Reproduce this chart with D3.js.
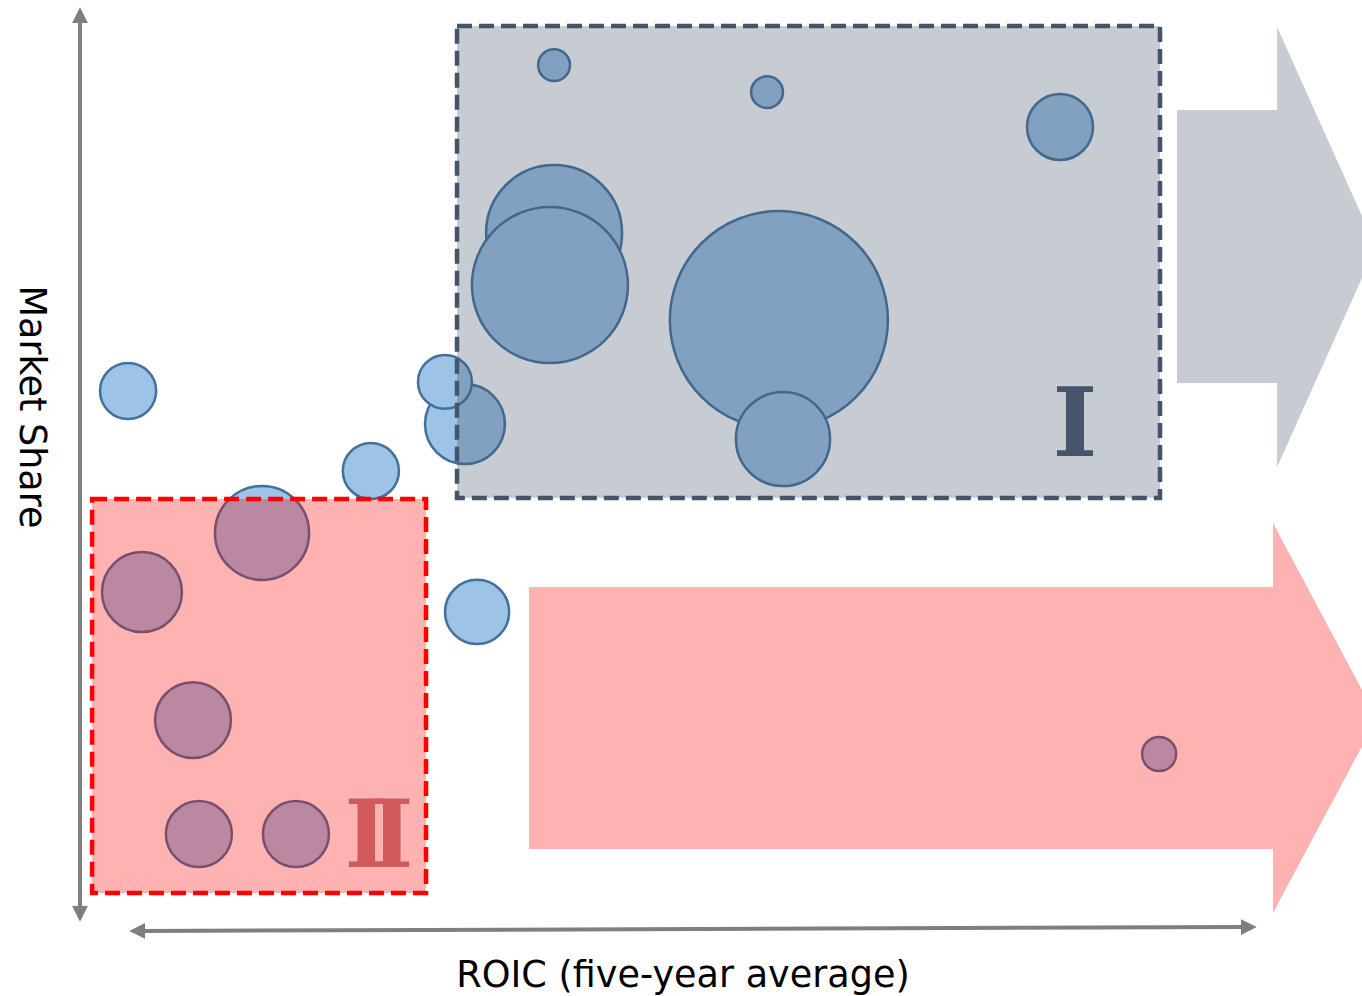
<!DOCTYPE html>
<html>
<head>
<meta charset="utf-8">
<script src="https://cdn.jsdelivr.net/npm/d3@7"></script>
<style>
  html, body { margin: 0; padding: 0; background: #fff; overflow: hidden; }
  svg { display: block; }
</style>
</head>
<body>
<svg id="chart" width="1362" height="996"></svg>
<script>
// ---- Data ----
const roic  = [16.07, 23.29, 33.22, 16.07, 15.93, 23.69, 23.83, 13.05, 12.37, 1.63, 9.86, 6.17, 2.10, 3.83, 4.03, 7.32, 13.46, 36.58];
const share = [46.98, 45.50, 43.59, 37.77, 34.92, 33.00, 26.48, 27.30, 29.61, 29.11, 24.73, 21.33, 18.09, 11.07, 4.82, 4.82, 17.00, 9.21];
const size  = [2.1, 2.1, 9.0, 38.2, 50.3, 98.2, 18.3, 13.2, 6.0, 6.5, 6.5, 18.3, 13.2, 11.9, 9.0, 9.0, 8.5, 2.4];

const zoneNames = ["I", "II"];
const zoneRoic  = [[12.78, 36.61], [0.41, 11.73]];
const zoneShare = [[23.25, 49.12], [1.59, 23.19]];

// arrows: [body start, head base, tip] and [body low, body high, head low, head high, tip]
const arrowRoic  = [[37.19, 40.58, 43.93], [15.22, 40.44, 43.97]];
const arrowShare = [[29.55, 44.52, 24.95, 49.07, 37.01], [4.00, 18.37, 0.49, 21.88, 11.18]];

const xLabel = "ROIC (five-year average)";
const yLabel = "Market Share";

// ---- Scales ----
const x = d3.scaleLinear().domain([0, 40]).range([80, 1260]);
const y = d3.scaleLinear().domain([0, 50]).range([922, 10]);
const r = d3.scaleSqrt().domain([0, 100]).range([0, 110]);

const svg = d3.select("#chart");

// ---- Bubbles ----
const pts = roic.map((v, i) => ({ x: v, y: share[i], s: size[i] }));
svg.append("g").selectAll("circle").data(pts).join("circle")
  .attr("cx", d => x(d.x)).attr("cy", d => y(d.y)).attr("r", d => r(d.s))
  .attr("fill", "#9DC3E6").attr("stroke", "#41719C").attr("stroke-width", 2.5);

// ---- Zones ----
const zoneFill = ["#44546A", "#FF0000"];
const zoneStroke = ["#44546A", "#FF0000"];
const zones = zoneNames.map((n, i) => ({ n, xr: zoneRoic[i], yr: zoneShare[i], i }));
const zg = svg.append("g");
zg.selectAll("rect.fill").data(zones).join("rect")
  .attr("x", d => x(d.xr[0])).attr("y", d => y(d.yr[1]))
  .attr("width", d => x(d.xr[1]) - x(d.xr[0])).attr("height", d => y(d.yr[0]) - y(d.yr[1]))
  .attr("fill", d => zoneFill[d.i]).attr("fill-opacity", 0.3);

// ---- Arrows ----
const arrows = arrowRoic.map((a, i) => ({ a, b: arrowShare[i], i }));
svg.append("g").selectAll("path").data(arrows).join("path")
  .attr("d", d => {
    const [x0, xh, xt] = d.a.map(x);
    const [bl, bh, hl, hh, t] = d.b.map(y);
    return `M${x0},${bh}L${xh},${bh}L${xh},${hh}L${xt},${t}L${xh},${hl}L${xh},${bl}L${x0},${bl}Z`;
  })
  .attr("fill", d => zoneFill[d.i]).attr("fill-opacity", 0.3);

// zone borders
zg.selectAll("rect.border").data(zones).join("rect")
  .attr("x", d => x(d.xr[0])).attr("y", d => y(d.yr[1]))
  .attr("width", d => x(d.xr[1]) - x(d.xr[0])).attr("height", d => y(d.yr[0]) - y(d.yr[1]))
  .attr("fill", "none").attr("stroke", d => zoneStroke[d.i]).attr("stroke-width", 4.5)
  .attr("stroke-dasharray", "15,7");

// numerals
svg.append("text").text(zoneNames[0])
  .attr("x", x(zoneRoic[0][1]) - 85).attr("y", y(zoneShare[0][0]) - 42)
  .attr("text-anchor", "middle")
  .attr("font-family", "DejaVu Serif").attr("font-weight", "bold").attr("font-size", 96)
  .attr("fill", "#44546A");
svg.append("text").text(zoneNames[1])
  .attr("x", x(zoneRoic[1][1]) - 56).attr("y", y(zoneShare[1][0]) - 26)
  .attr("text-anchor", "middle").attr("letter-spacing", -18)
  .attr("font-family", "DejaVu Serif").attr("font-weight", "bold").attr("font-size", 93)
  .attr("fill", "#D15B5B");

// ---- Axes ----
const axisColor = "#7F7F7F";
const defs = svg.append("defs");
defs.append("marker").attr("id", "ah").attr("viewBox", "0 0 10 10")
  .attr("refX", 2).attr("refY", 5).attr("markerWidth", 4).attr("markerHeight", 4)
  .attr("orient", "auto-start-reverse").attr("markerUnits", "strokeWidth")
  .append("path").attr("d", "M0,0L10,5L0,10Z").attr("fill", axisColor);

svg.append("line").attr("x1", 80).attr("y1", 20).attr("x2", 80).attr("y2", 909)
  .attr("stroke", axisColor).attr("stroke-width", 4)
  .attr("marker-start", "url(#ah)").attr("marker-end", "url(#ah)");
svg.append("line").attr("x1", 142).attr("y1", 931).attr("x2", 1244).attr("y2", 927)
  .attr("stroke", axisColor).attr("stroke-width", 4)
  .attr("marker-start", "url(#ah)").attr("marker-end", "url(#ah)");

// ---- Labels ----
svg.append("text").text(xLabel)
  .attr("x", 683).attr("y", 987).attr("text-anchor", "middle")
  .attr("font-family", "DejaVu Sans").attr("font-size", 36.6).attr("fill", "#000");
svg.append("text").text(yLabel)
  .attr("transform", "translate(20,407) rotate(90)").attr("text-anchor", "middle")
  .attr("font-family", "DejaVu Sans").attr("font-size", 36.6).attr("fill", "#000");
</script>
</body>
</html>
